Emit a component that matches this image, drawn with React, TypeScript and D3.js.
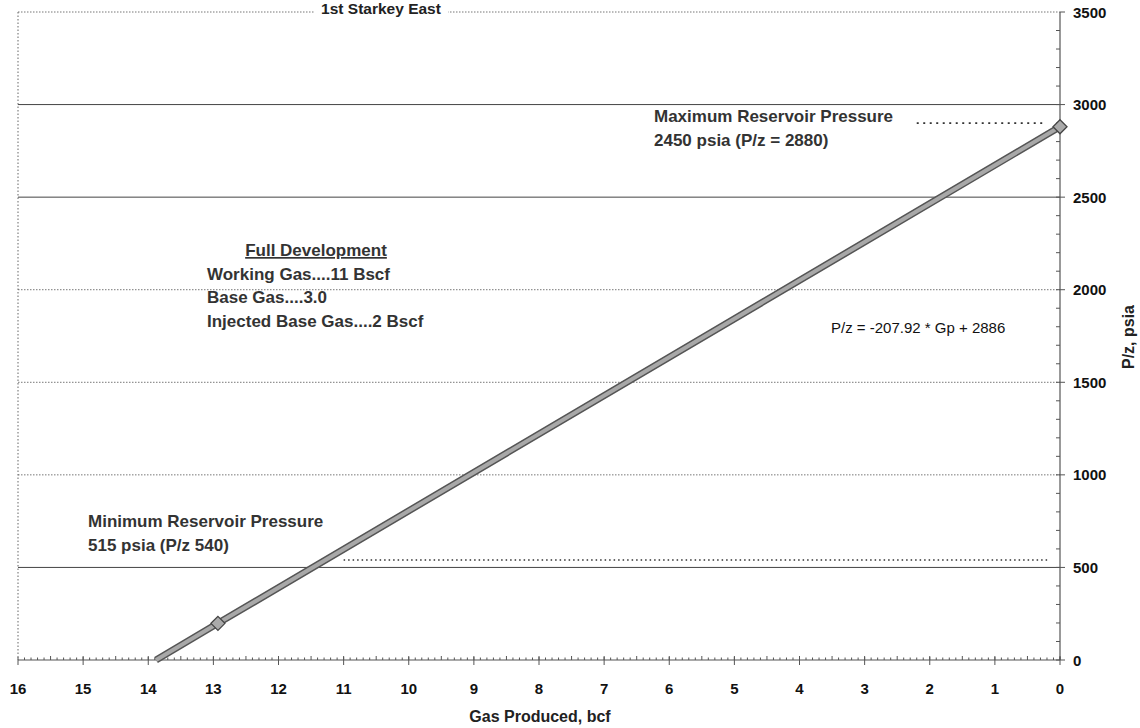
import * as d3 from "d3";

// Gp (bcf) vs P/z (psia)
const lineGp = [13.88, 12.93, 0];
const linePz = [0, 198, 2880];
const markerIdx = [1, 2];

const xTicks = [16, 15, 14, 13, 12, 11, 10, 9, 8, 7, 6, 5, 4, 3, 2, 1, 0];
const yTicks = [0, 500, 1000, 1500, 2000, 2500, 3000, 3500];
const solidGrid = [500, 2500, 3000];

const maxLine = { from: 2.2, to: 0.25, pz: 2900 };
const minLine = { from: 11.0, to: 0.18, pz: 540 };

const fullDevLines = ["Working Gas....11 Bscf", "Base Gas....3.0", "Injected Base Gas....2 Bscf"];

const W = 1140;
const H = 728;
const margin = { left: 17, right: 80, top: 12, bottom: 68 };
const FONT = "'Liberation Sans', Arial, sans-serif";

export default function App() {
  const x = d3.scaleLinear().domain([16, 0]).range([margin.left + 1, W - margin.right]);
  const y = d3.scaleLinear().domain([0, 3500]).range([H - margin.bottom, margin.top]);
  const x0 = x(16);
  const x1 = x(0);
  const yb = y(0);

  const pts = lineGp.map((g, i) => [x(g), y(linePz[i])] as [number, number]);
  const path = d3.line()(pts) ?? "";

  const minorX = d3.range(0, 160).map((i) => i / 10);
  const minorY = d3.range(0, 35).map((i) => i * 100);

  return (
    <svg width={W} height={H} style={{ position: "absolute", left: 0, top: 0, background: "#fff" }} fontFamily={FONT}>
      {/* grid */}
      {yTicks.filter((v) => v > 0).map((v) => (
        <line key={v} x1={x0} x2={x1} y1={y(v)} y2={y(v)}
          stroke={solidGrid.includes(v) ? "#444" : "#777"}
          strokeWidth={1}
          strokeDasharray={solidGrid.includes(v) ? undefined : "1.5,1.5"} />
      ))}
      {/* left border */}
      <line x1={x0} x2={x0} y1={y(3500)} y2={yb} stroke="#666" strokeDasharray="1.5,2" />
      {/* right axis */}
      <line x1={x1} x2={x1} y1={y(3500)} y2={yb} stroke="#555" strokeWidth={1.2} />
      {minorY.map((v) => (
        <line key={v} x1={x1 - 4} x2={x1} y1={y(v)} y2={y(v)} stroke="#555" />
      ))}
      {yTicks.map((v) => (
        <line key={"m" + v} x1={x1} x2={x1 + 5} y1={y(v)} y2={y(v)} stroke="#555" />
      ))}
      {yTicks.map((v) => (
        <text key={"t" + v} x={x1 + 13} y={y(v) + 5.5} fontSize={15} fontWeight="bold" fill="#111">{v}</text>
      ))}
      {/* bottom axis */}
      <line x1={x0} x2={x1} y1={yb} y2={yb} stroke="#555" strokeWidth={1.2} />
      {minorX.map((v) => (
        <line key={v} x1={x(v)} x2={x(v)} y1={yb - (Math.abs(v * 2 - Math.round(v * 2)) < 1e-6 ? 4 : 2.5)} y2={yb} stroke="#555" />
      ))}
      {xTicks.map((v) => (
        <line key={"xm" + v} x1={x(v)} x2={x(v)} y1={yb - 3} y2={yb + 5} stroke="#555" />
      ))}
      {xTicks.map((v) => (
        <text key={"xt" + v} x={x(v)} y={yb + 34} textAnchor="middle" fontSize={15} fontWeight="bold" fill="#111">{v}</text>
      ))}
      <text x={540} y={722} textAnchor="middle" fontSize={16} fontWeight="bold" fill="#222">Gas Produced, bcf</text>
      <text transform={`translate(${1134},${337}) rotate(-90)`} textAnchor="middle" fontSize={16} fontWeight="bold" fill="#222">P/z, psia</text>

      {/* reference pressure lines */}
      <line x1={x(maxLine.from)} x2={x(maxLine.to)} y1={y(maxLine.pz)} y2={y(maxLine.pz)} stroke="#333" strokeWidth={1.8} strokeDasharray="2,4.5" />
      <line x1={x(minLine.from)} x2={x(minLine.to)} y1={y(minLine.pz)} y2={y(minLine.pz)} stroke="#333" strokeWidth={1.6} strokeDasharray="1.5,3" />

      {/* P/z line */}
      <path d={path} fill="none" stroke="#555" strokeWidth={7} />
      <path d={path} fill="none" stroke="#a8a8a8" strokeWidth={4} />
      {markerIdx.map((i) => {
        const [px, py] = pts[i];
        return (
          <path key={i} d={`M${px},${py - 7}L${px + 7},${py}L${px},${py + 7}L${px - 7},${py}Z`}
            fill="#aaa" stroke="#444" strokeWidth={1.3} />
        );
      })}

      {/* annotations */}
      <rect x={314} y={0} width={134} height={14} fill="#fff" />
      <text x={381} y={14} textAnchor="middle" fontSize={15.5} fontWeight="bold" fill="#222">1st Starkey East</text>
      <text x={654} y={122} fontSize={17} fontWeight="bold" fill="#333">Maximum Reservoir Pressure</text>
      <text x={654} y={146} fontSize={17} fontWeight="bold" fill="#333">2450 psia (P/z = 2880)</text>
      <text x={316} y={256} textAnchor="middle" fontSize={17} fontWeight="bold" fill="#333" textDecoration="underline">Full Development</text>
      {fullDevLines.map((t, i) => (
        <text key={t} x={207} y={280 + i * 23.3} fontSize={17} fontWeight="bold" fill="#333">{t}</text>
      ))}
      <text x={831} y={333} fontSize={15} fill="#111">P/z = -207.92 * Gp + 2886</text>
      <text x={88} y={527} fontSize={17} fontWeight="bold" fill="#333">Minimum Reservoir Pressure</text>
      <text x={88} y={551} fontSize={17} fontWeight="bold" fill="#333">515 psia (P/z 540)</text>
    </svg>
  );
}
